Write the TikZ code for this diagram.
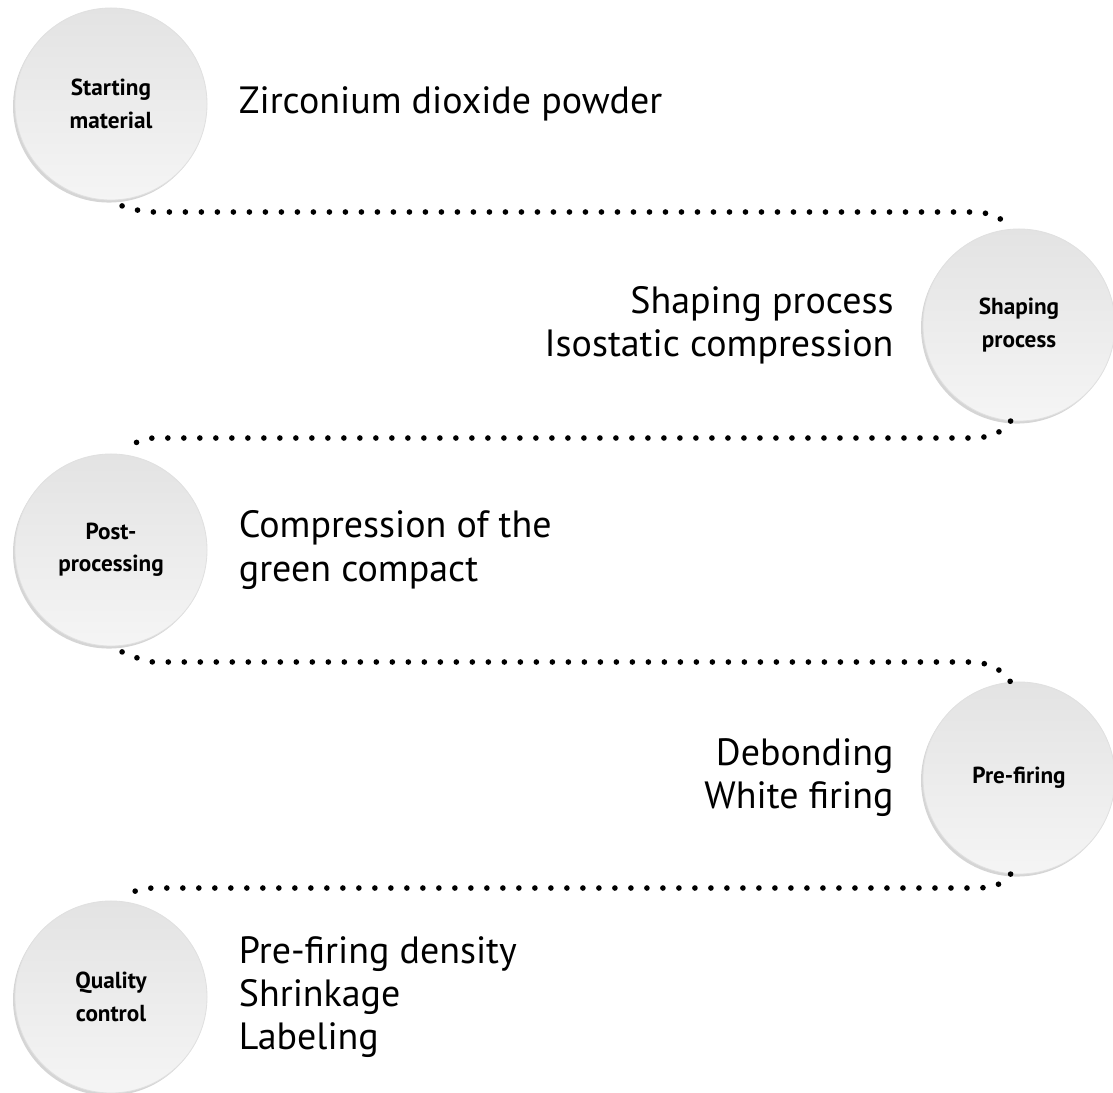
\documentclass[tikz,border=0pt]{standalone}
\usepackage{fontspec}
\setmainfont{PT Sans}
\usetikzlibrary{positioning, shadows}

\begin{document}
\begin{tikzpicture}[
        x=0.025cm, y=-0.025cm, node distance=0.78cm,
        stage/.style={circle, minimum size=4.8cm, inner sep=0pt, draw=black!12, line width=0.6pt,
          top color=black!11, bottom color=black!4, align=center,
          font=\fontsize{16.5}{23}\selectfont\bfseries,
          drop shadow={shadow xshift=-1.4pt, shadow yshift=-1.8pt, opacity=0.3, fill=black!55}},
        desc/.style={inner sep=0pt, font=\fontsize{27}{30.6}\selectfont},
        dotline/.style={line width=4pt, line cap=round, dash pattern=on 0pt off 11.38pt},
        ]
  \useasboundingbox (0,0) rectangle (1113,1093);

  \node[stage] (start)   at (111,104)  {Starting\\material};
  \node[stage] (shaping) at (1019,325) {Shaping\\process};
  \node[stage] (post)    at (111,550)  {Post-\\processing};
  \node[stage] (prefire) at (1019,778) {Pre-firing};
  \node[stage] (quality) at (111,997)  {Quality\\control};

  \node[desc, align=left,  right=of start]         (startdesc)   {Zirconium dioxide powder};
  \node[desc, align=right, left=0.72cm of shaping] (shapingdesc) {Shaping process\\Isostatic compression};
  \node[desc, align=left,  right=of post]          (postdesc)    {Compression of the\\green compact};
  \node[desc, align=right, left=0.72cm of prefire] (prefiredesc) {Debonding\\White firing};
  \node[desc, align=left,  right=of quality]       (qualitydesc) {Pre-firing density\\Shrinkage\\Labeling};

  \coordinate (l1a) at (154,212);  \coordinate (l1b) at (968,212);
  \coordinate (l2a) at (968,438);  \coordinate (l2b) at (154,438);
  \coordinate (l3a) at (154,662);  \coordinate (l3b) at (968,662);
  \coordinate (l4a) at (968,888);  \coordinate (l4b) at (154,888);

  \draw[dotline] ([shift={(1,6)}]start.-84) to[out=-15,in=180] (l1a) -- (l1b) to[out=0,in=125] (shaping.95);
  \draw[dotline] (shaping.-95) to[out=-125,in=0] (l2a) -- (l2b) to[out=180,in=15] ([shift={(1,-6)}]post.84);
  \draw[dotline] ([shift={(1,6)}]post.-84) to[out=-15,in=180] (l3a) -- (l3b) to[out=0,in=125] (prefire.95);
  \draw[dotline] (prefire.-95) to[out=-125,in=0] (l4a) -- (l4b) to[out=180,in=15] ([shift={(1,-6)}]quality.84);
\end{tikzpicture}
\end{document}
